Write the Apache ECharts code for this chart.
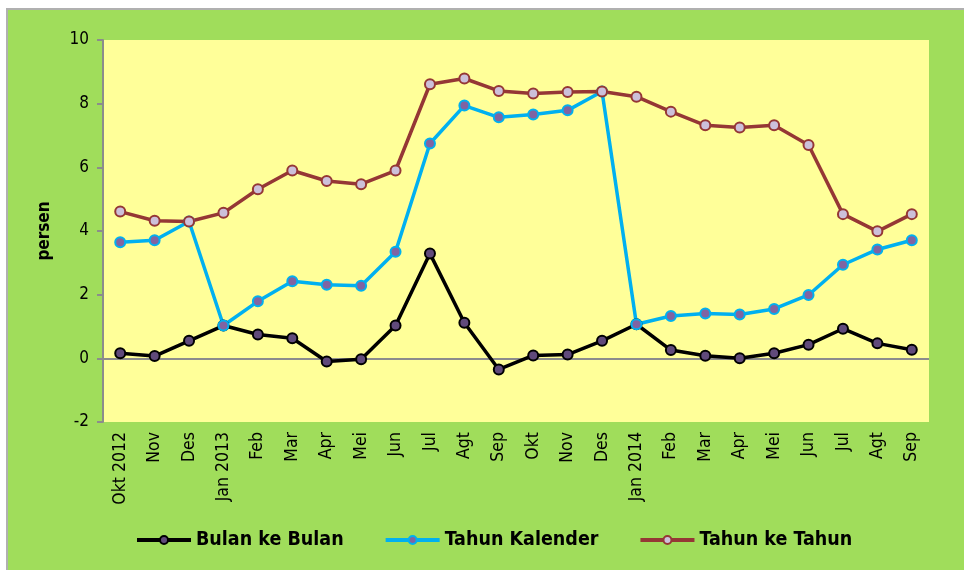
<!DOCTYPE html>
<html>
<head>
<meta charset="utf-8">
<script src="https://cdn.jsdelivr.net/npm/echarts@6/dist/echarts.min.js"></script>
<style>
html, body { margin: 0; padding: 0; background: #ffffff; }
#chart { width: 964px; height: 570px; }
</style>
</head>
<body>
<div id="chart"></div>
<script>
var months = ['Okt 2012', 'Nov', 'Des', 'Jan 2013', 'Feb', 'Mar', 'Apr', 'Mei', 'Jun', 'Jul', 'Agt', 'Sep',
    'Okt', 'Nov', 'Des', 'Jan 2014', 'Feb', 'Mar', 'Apr', 'Mei', 'Jun', 'Jul', 'Agt', 'Sep'];
var bulanKeBulan = [0.16, 0.07, 0.55, 1.03, 0.75, 0.63, -0.10, -0.03, 1.03, 3.29, 1.12, -0.35,
    0.09, 0.12, 0.55, 1.07, 0.26, 0.08, 0.00, 0.16, 0.43, 0.93, 0.47, 0.27];
var tahunKalender = [3.65, 3.71, 4.30, 1.03, 1.79, 2.42, 2.31, 2.28, 3.35, 6.75, 7.94, 7.57,
    7.66, 7.79, 8.38, 1.07, 1.33, 1.41, 1.38, 1.55, 1.99, 2.94, 3.42, 3.71];
var tahunKeTahun = [4.61, 4.32, 4.30, 4.57, 5.31, 5.90, 5.57, 5.47, 5.90, 8.61, 8.79, 8.40,
    8.32, 8.37, 8.38, 8.22, 7.75, 7.32, 7.25, 7.32, 6.70, 4.53, 3.99, 4.53];
var yTicks = { min: -2, max: 10, step: 2 };

var chart = echarts.init(document.getElementById('chart'));
var font = "'DejaVu Sans Condensed', 'Open Sans'";

function lineSeries(name, data, lineColor, fill, border) {
    return {
        name: name,
        type: 'line',
        data: data,
        symbol: 'circle',
        symbolSize: 10,
        lineStyle: { color: lineColor, width: 3.5 },
        itemStyle: { color: fill, borderColor: border, borderWidth: 2 },
        z: 3
    };
}

var series = [
    lineSeries('Bulan ke Bulan', bulanKeBulan, '#000000', '#604a7b', '#000000'),
    lineSeries('Tahun Kalender', tahunKalender, '#00b0f0', '#8064a2', '#00b0f0'),
    lineSeries('Tahun ke Tahun', tahunKeTahun, '#953735', '#ccc0da', '#953735')
];
// garis nol
series[0].markLine = {
    silent: true,
    symbol: 'none',
    label: { show: false },
    lineStyle: { color: '#8c8c8c', width: 2, type: 'solid' },
    data: [{ yAxis: 0 }],
    z: 1
};

var option = {
    backgroundColor: '#ffffff',
    animation: false,
    graphic: [{
        type: 'rect',
        left: 6, top: 8,
        shape: { width: 958, height: 562 },
        style: { fill: '#a0dd5b', stroke: '#b0b0b0', lineWidth: 2 },
        z: -10
    }],
    grid: {
        left: 103, right: 35, top: 40, bottom: 148,
        show: true,
        backgroundColor: '#ffff99',
        borderWidth: 0
    },
    legend: {
        left: 130, top: 525,
        itemWidth: 54, itemHeight: 10,
        itemGap: 40,
        lineStyle: { width: 4 },
        textStyle: { fontFamily: font, fontWeight: 'bold', fontSize: 19.5, color: '#000' },
        data: ['Bulan ke Bulan', 'Tahun Kalender', 'Tahun ke Tahun']
    },
    xAxis: {
        type: 'category',
        data: months,
        boundaryGap: true,
        axisLine: { show: false, onZero: false },
        axisTick: { show: false },
        axisLabel: {
            rotate: 90, margin: 10, interval: 0,
            fontFamily: font, fontSize: 17.5, color: '#000'
        },
        splitLine: { show: false }
    },
    yAxis: {
        type: 'value',
        min: yTicks.min, max: yTicks.max, interval: yTicks.step,
        name: 'persen',
        nameLocation: 'middle',
        nameGap: 50,
        nameTextStyle: { fontFamily: font, fontWeight: 'bold', fontSize: 17, color: '#000' },
        axisLine: { show: true, lineStyle: { color: '#8c8c8c', width: 2 } },
        axisTick: { show: true, length: 6, lineStyle: { color: '#8c8c8c', width: 2 } },
        axisLabel: { fontFamily: font, fontSize: 17, color: '#000', margin: 14 },
        splitLine: { show: false }
    },
    series: series
};
chart.setOption(option);
</script>
</body>
</html>
